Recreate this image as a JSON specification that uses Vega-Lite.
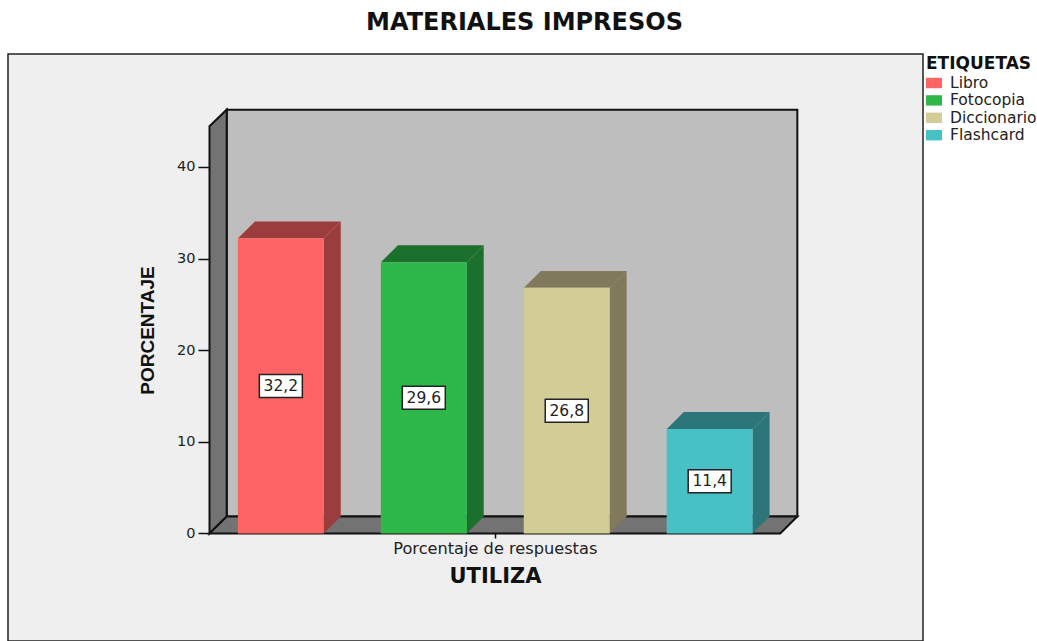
{
"$schema":"https://vega.github.io/schema/vega-lite/v6.json",
"autosize":"none","width":915,"height":587,
"padding":{"left":8,"top":54,"right":114,"bottom":0},
"background":"white",
"config":{"view":{"fill":"#efefef","stroke":"#222222","strokeWidth":1.5},"font":"Liberation Sans"},
"title":{"text":"MATERIALES IMPRESOS","font":"DejaVu Sans","fontSize":24,"fontWeight":"bold","color":"#111111","anchor":"middle","dx":59,"offset":19},
"datasets":{
"barras":[
{"etiqueta":"Libro","orden":1,"porcentaje":32.2,"rotulo":"32,2"},
{"etiqueta":"Fotocopia","orden":2,"porcentaje":29.6,"rotulo":"29,6"},
{"etiqueta":"Diccionario","orden":3,"porcentaje":26.8,"rotulo":"26,8"},
{"etiqueta":"Flashcard","orden":4,"porcentaje":11.4,"rotulo":"11,4"}],
"fondo":[
{"x":0.6212,"lo":1.855,"hi":46.24},{"x":4.613,"lo":1.855,"hi":46.24}],
"suelo":[
{"parte":"izquierda","x":0.5009,"lo":0,"hi":44.44},{"parte":"izquierda","x":0.6212,"lo":1.855,"hi":46.24},
{"parte":"suelo","x":0.5009,"lo":0,"hi":0},{"parte":"suelo","x":0.6212,"lo":0,"hi":1.855},{"parte":"suelo","x":4.493,"lo":0,"hi":1.855},{"parte":"suelo","x":4.613,"lo":1.855,"hi":1.855}],
"caras":[
{"etiqueta":"Libro","cara":"lado","x":1.3,"lo":0,"hi":32.2},{"etiqueta":"Libro","cara":"lado","x":1.419,"lo":1.855,"hi":34.05},
{"etiqueta":"Libro","cara":"tapa","x":0.7,"lo":32.2,"hi":32.2},{"etiqueta":"Libro","cara":"tapa","x":0.819,"lo":32.2,"hi":34.05},{"etiqueta":"Libro","cara":"tapa","x":1.3,"lo":32.2,"hi":34.05},{"etiqueta":"Libro","cara":"tapa","x":1.419,"lo":34.05,"hi":34.05},
{"etiqueta":"Fotocopia","cara":"lado","x":2.3,"lo":0,"hi":29.6},{"etiqueta":"Fotocopia","cara":"lado","x":2.419,"lo":1.855,"hi":31.45},
{"etiqueta":"Fotocopia","cara":"tapa","x":1.7,"lo":29.6,"hi":29.6},{"etiqueta":"Fotocopia","cara":"tapa","x":1.819,"lo":29.6,"hi":31.45},{"etiqueta":"Fotocopia","cara":"tapa","x":2.3,"lo":29.6,"hi":31.45},{"etiqueta":"Fotocopia","cara":"tapa","x":2.419,"lo":31.45,"hi":31.45},
{"etiqueta":"Diccionario","cara":"lado","x":3.3,"lo":0,"hi":26.8},{"etiqueta":"Diccionario","cara":"lado","x":3.419,"lo":1.855,"hi":28.65},
{"etiqueta":"Diccionario","cara":"tapa","x":2.7,"lo":26.8,"hi":26.8},{"etiqueta":"Diccionario","cara":"tapa","x":2.819,"lo":26.8,"hi":28.65},{"etiqueta":"Diccionario","cara":"tapa","x":3.3,"lo":26.8,"hi":28.65},{"etiqueta":"Diccionario","cara":"tapa","x":3.419,"lo":28.65,"hi":28.65},
{"etiqueta":"Flashcard","cara":"lado","x":4.3,"lo":0,"hi":11.4},{"etiqueta":"Flashcard","cara":"lado","x":4.419,"lo":1.855,"hi":13.25},
{"etiqueta":"Flashcard","cara":"tapa","x":3.7,"lo":11.4,"hi":11.4},{"etiqueta":"Flashcard","cara":"tapa","x":3.819,"lo":11.4,"hi":13.25},{"etiqueta":"Flashcard","cara":"tapa","x":4.3,"lo":11.4,"hi":13.25},{"etiqueta":"Flashcard","cara":"tapa","x":4.419,"lo":13.25,"hi":13.25}]
},
"resolve":{"scale":{"color":"independent"},"axis":{"x":"independent","y":"independent"}},
"layer":[
{"data":{"name":"fondo"},
 "mark":{"type":"area","orient":"vertical","color":"#bebebe","stroke":"#111111","strokeWidth":2,"opacity":1},
 "encoding":{
  "x":{"field":"x","type":"quantitative","scale":{"domain":[-0.9087,5.4921],"nice":false,"zero":false,"padding":0},
   "axis":{"orient":"bottom","offset":-108,"values":[2.4965],"labelExpr":"'Porcentaje de respuestas'","domain":false,"grid":false,"tickColor":"#111111","tickWidth":1.5,"tickSize":5,
    "labelFont":"DejaVu Sans","labelFontSize":16.2,"labelColor":"#222222","labelPadding":2,"labelOverlap":false,"labelLimit":300,
    "title":"UTILIZA","titleFont":"DejaVu Sans","titleFontSize":21,"titleFontWeight":"bold","titleColor":"#111111","titleX":487,"titleY":32,"zindex":1}},
  "y":{"field":"lo","type":"quantitative","scale":{"domain":[-11.73,52.316],"nice":false,"zero":false},
   "axis":{"orient":"left","offset":-201,"values":[0,10,20,30,40],"domain":false,"grid":false,"tickColor":"#111111","tickWidth":1.5,"tickSize":11,
    "labelFont":"DejaVu Sans","labelFontSize":14.5,"labelColor":"#222222","labelPadding":3,
    "title":"PORCENTAJE","titleFont":"Liberation Sans","titleFontSize":19,"titleFontWeight":"bold","titleColor":"#111111","titleX":-52,"titleY":276,"zindex":1}},
  "y2":{"field":"hi"}}},
{"data":{"name":"suelo"},
 "mark":{"type":"area","orient":"vertical","color":"#737373","stroke":"#111111","strokeWidth":2,"opacity":1},
 "encoding":{
  "x":{"field":"x","type":"quantitative","scale":{"domain":[-0.9087,5.4921],"nice":false,"zero":false,"padding":0},"axis":null},
  "y":{"field":"lo","type":"quantitative","scale":{"domain":[-11.73,52.316],"nice":false,"zero":false},"axis":null},
  "y2":{"field":"hi"},
  "detail":{"field":"parte"}}},
{"data":{"name":"caras"},
 "mark":{"type":"area","orient":"vertical","opacity":1},
 "encoding":{
  "x":{"field":"x","type":"quantitative","scale":{"domain":[-0.9087,5.4921],"nice":false,"zero":false,"padding":0},"axis":null},
  "y":{"field":"lo","type":"quantitative","scale":{"domain":[-11.73,52.316],"nice":false,"zero":false},"axis":null},
  "y2":{"field":"hi"},
  "detail":{"field":"cara"},
  "color":{"field":"etiqueta","type":"nominal","legend":null,"scale":{"domain":["Libro","Fotocopia","Diccionario","Flashcard"],"range":["#9c3d3d","#1c702d","#80795a","#2c7679"]}}}},
{"data":{"name":"barras"},
 "mark":{"type":"bar","orient":"vertical","width":86,"opacity":1},
 "encoding":{
  "x":{"field":"orden","type":"quantitative","scale":{"domain":[-0.9087,5.4921],"nice":false,"zero":false,"padding":0},"axis":null},
  "y":{"field":"porcentaje","type":"quantitative","scale":{"domain":[-11.73,52.316],"nice":false,"zero":false},"axis":null},
  "y2":{"datum":0},
  "color":{"field":"etiqueta","type":"nominal","scale":{"domain":["Libro","Fotocopia","Diccionario","Flashcard"],"range":["#ff6464","#2fb84a","#d2cc96","#47c1c6"]},
   "legend":{"orient":"none","legendX":918,"legendY":2,"title":"ETIQUETAS","titleFont":"DejaVu Sans","titleFontSize":17,"titleFontWeight":"bold","titleColor":"#111111","titlePadding":2,
    "padding":0,"symbolType":"M-1,-0.65H1V0.65H-1Z","symbolSize":256,"symbolStrokeWidth":0,"symbolOpacity":1,"labelFont":"DejaVu Sans","labelFontSize":15.5,"labelColor":"#222222","labelOffset":8,"rowPadding":0.4,"labelLimit":120,"offset":0}}}},
{"data":{"name":"barras"},
 "transform":[{"calculate":"datum.porcentaje/2","as":"mitad"}],
 "layer":[
 {"mark":{"type":"point","shape":"M-1,-0.535H1V0.535H-1Z","filled":true,"fill":"white","stroke":"#222222","strokeWidth":1.5,"size":1849,"opacity":1},
  "encoding":{
   "x":{"field":"orden","type":"quantitative","scale":{"domain":[-0.9087,5.4921],"nice":false,"zero":false,"padding":0},"axis":null},
   "y":{"field":"mitad","type":"quantitative","scale":{"domain":[-11.73,52.316],"nice":false,"zero":false},"axis":null}}},
 {"mark":{"type":"text","font":"DejaVu Sans","fontSize":15.5,"color":"#222222","align":"center","baseline":"middle"},
  "encoding":{
   "x":{"field":"orden","type":"quantitative","scale":{"domain":[-0.9087,5.4921],"nice":false,"zero":false,"padding":0},"axis":null},
   "y":{"field":"mitad","type":"quantitative","scale":{"domain":[-11.73,52.316],"nice":false,"zero":false},"axis":null},
   "text":{"field":"rotulo","type":"nominal"}}}
 ]}
]
}
